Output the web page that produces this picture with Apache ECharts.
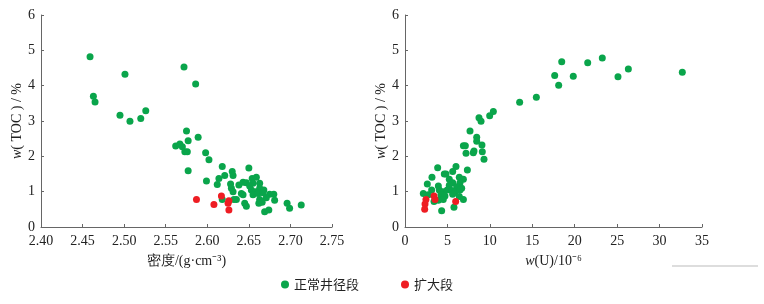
<!DOCTYPE html>
<html>
<head>
<meta charset="utf-8">
<script src="https://cdn.jsdelivr.net/npm/echarts@6/dist/echarts.min.js"></script>
<style>
  html, body { margin: 0; padding: 0; background: #fff; }
  #chart { width: 764px; height: 304px; }
</style>
</head>
<body>
<div id="chart"></div>
<script>
// 密度 - TOC，正常井径段
var densityNormal = [
    [2.459,4.82],[2.572,4.53],[2.501,4.32],[2.586,4.05],[2.463,3.70],[2.465,3.54],
    [2.495,3.16],[2.507,2.99],[2.520,3.07],[2.526,3.29],[2.575,2.72],[2.577,2.44],
    [2.589,2.54],[2.562,2.29],[2.567,2.35],[2.570,2.27],[2.573,2.13],[2.576,2.13],
    [2.598,2.10],[2.602,1.90],[2.577,1.59],[2.618,1.71],[2.650,1.67],[2.630,1.57],
    [2.631,1.46],[2.621,1.46],[2.614,1.37],[2.599,1.30],[2.612,1.20],[2.628,1.22],
    [2.629,1.10],[2.638,1.19],[2.643,1.27],[2.647,1.25],[2.654,1.37],[2.659,1.41],
    [2.655,1.24],[2.663,1.24],[2.653,1.05],[2.663,1.10],[2.668,1.05],[2.658,1.00],
    [2.631,1.00],[2.641,0.95],[2.643,0.91],[2.655,0.91],[2.661,0.95],[2.667,0.97],
    [2.675,0.93],[2.680,0.93],[2.671,0.83],[2.681,0.76],[2.618,0.78],[2.635,0.78],
    [2.632,0.78],[2.663,0.78],[2.662,0.67],[2.666,0.70],[2.645,0.67],[2.647,0.59],
    [2.669,0.43],[2.674,0.48],[2.696,0.67],[2.699,0.53],[2.713,0.62],[2.651,1.16]
];
// 密度 - TOC，扩大段
var densityEnlarged = [
    [2.587,0.78],[2.617,0.88],[2.608,0.64],[2.626,0.74],[2.625,0.67],[2.626,0.48]
];
// w(U) - TOC，正常井径段
var uraniumNormal = [
    [18.47,4.68],[21.53,4.65],[23.25,4.78],[26.32,4.47],[25.10,4.25],[32.68,4.38],
    [17.64,4.29],[19.83,4.27],[18.11,4.01],[15.48,3.67],[13.51,3.53],[10.41,3.27],
    [9.98,3.15],[8.72,3.09],[8.96,2.99],[7.66,2.72],[8.45,2.54],[8.45,2.43],
    [9.07,2.32],[8.13,2.15],[9.11,2.13],[9.31,1.92],[6.88,2.30],[7.11,2.30],
    [7.19,2.09],[8.05,2.10],[3.85,1.68],[6.01,1.71],[7.35,1.61],[4.63,1.50],
    [4.83,1.50],[5.62,1.57],[3.18,1.41],[5.22,1.35],[6.40,1.41],[6.88,1.35],
    [5.62,1.25],[6.48,1.25],[3.93,1.16],[2.63,1.22],[5.22,1.18],[6.09,1.14],
    [6.68,1.10],[2.16,0.95],[3.14,1.05],[4.04,1.05],[4.51,1.00],[4.98,1.05],
    [5.50,1.03],[5.89,0.99],[6.48,1.05],[4.24,0.91],[4.71,0.88],[5.62,0.93],
    [6.40,0.86],[3.42,0.72],[3.93,0.76],[4.51,0.78],[6.88,0.78],[5.77,0.56],
    [4.32,0.46],[2.75,0.91]
];
// w(U) - TOC，扩大段
var uraniumEnlarged = [
    [2.47,0.78],[2.36,0.65],[2.32,0.50],[3.42,0.88],[3.54,0.78],[5.97,0.72]
];
var tocTicks = [0, 1, 2, 3, 4, 5, 6];
var legendNames = ['正常井径段', '扩大段'];

var green = '#0aa54b';
var red = '#ee1d23';
var axisColor = '#666';
var serif = '"Liberation Serif", "Times New Roman", serif';

function yAxisOpt(idx) {
    return {
        type: 'value',
        gridIndex: idx,
        min: tocTicks[0],
        max: tocTicks[tocTicks.length - 1],
        interval: 1,
        name: '{i|w}( TOC ) / %',
        nameLocation: 'middle',
        nameGap: 15,
        nameTextStyle: {
            color: '#222',
            fontFamily: serif,
            fontSize: 14,
            rich: { i: { fontStyle: 'italic', fontFamily: serif, fontSize: 14, color: '#222' } }
        },
        axisLine: { show: true, lineStyle: { color: axisColor, width: 1 } },
        axisTick: { show: true, inside: true, length: 3, lineStyle: { color: axisColor } },
        axisLabel: { color: '#222', fontFamily: serif, fontSize: 14, margin: 6 },
        splitLine: { show: false }
    };
}

function xAxisOpt(idx, min, max, step, name, digits) {
    return {
        type: 'value',
        gridIndex: idx,
        min: min,
        max: max,
        interval: step,
        name: name,
        nameLocation: 'middle',
        nameGap: 27,
        nameTextStyle: {
            color: '#222',
            fontFamily: serif,
            fontSize: 14,
            rich: { i: { fontStyle: 'italic', fontFamily: serif, fontSize: 14, color: '#222' } }
        },
        axisLine: { show: true, onZero: false, lineStyle: { color: axisColor, width: 1 } },
        axisTick: { show: true, inside: true, length: 3, lineStyle: { color: axisColor } },
        axisLabel: {
            color: '#222', fontFamily: serif, fontSize: 14, margin: 7,
            formatter: function (v) { return v.toFixed(digits); }
        },
        splitLine: { show: false }
    };
}

function scatter(name, data, color, idx) {
    return {
        name: name,
        type: 'scatter',
        xAxisIndex: idx,
        yAxisIndex: idx,
        data: data,
        symbolSize: 7,
        itemStyle: { color: color, opacity: 1 }
    };
}

var chart = echarts.init(document.getElementById('chart'));
chart.setOption({
    animation: false,
    grid: [
        { left: 41, top: 15, width: 291, height: 212 },
        { left: 405, top: 15, width: 297, height: 212 }
    ],
    xAxis: [
        xAxisOpt(0, 2.40, 2.75, 0.05, '密度/(g·cm⁻³)', 2),
        xAxisOpt(1, 0, 35, 5, '{i|w}(U)/10⁻⁶', 0)
    ],
    yAxis: [yAxisOpt(0), yAxisOpt(1)],
    legend: {
        data: legendNames,
        bottom: 8,
        left: 276,
        icon: 'circle',
        itemWidth: 8,
        itemHeight: 8,
        itemGap: 42,
        textStyle: { color: '#222', fontSize: 13, fontFamily: '"Noto Sans CJK SC", sans-serif' }
    },
    graphic: [{
        type: 'line',
        shape: { x1: 672, y1: 266, x2: 758, y2: 266 },
        style: { stroke: '#bbb', lineWidth: 1 }
    }],
    series: [
        scatter(legendNames[0], densityNormal, green, 0),
        scatter(legendNames[1], densityEnlarged, red, 0),
        scatter(legendNames[0], uraniumNormal, green, 1),
        scatter(legendNames[1], uraniumEnlarged, red, 1)
    ]
});
</script>
</body>
</html>
